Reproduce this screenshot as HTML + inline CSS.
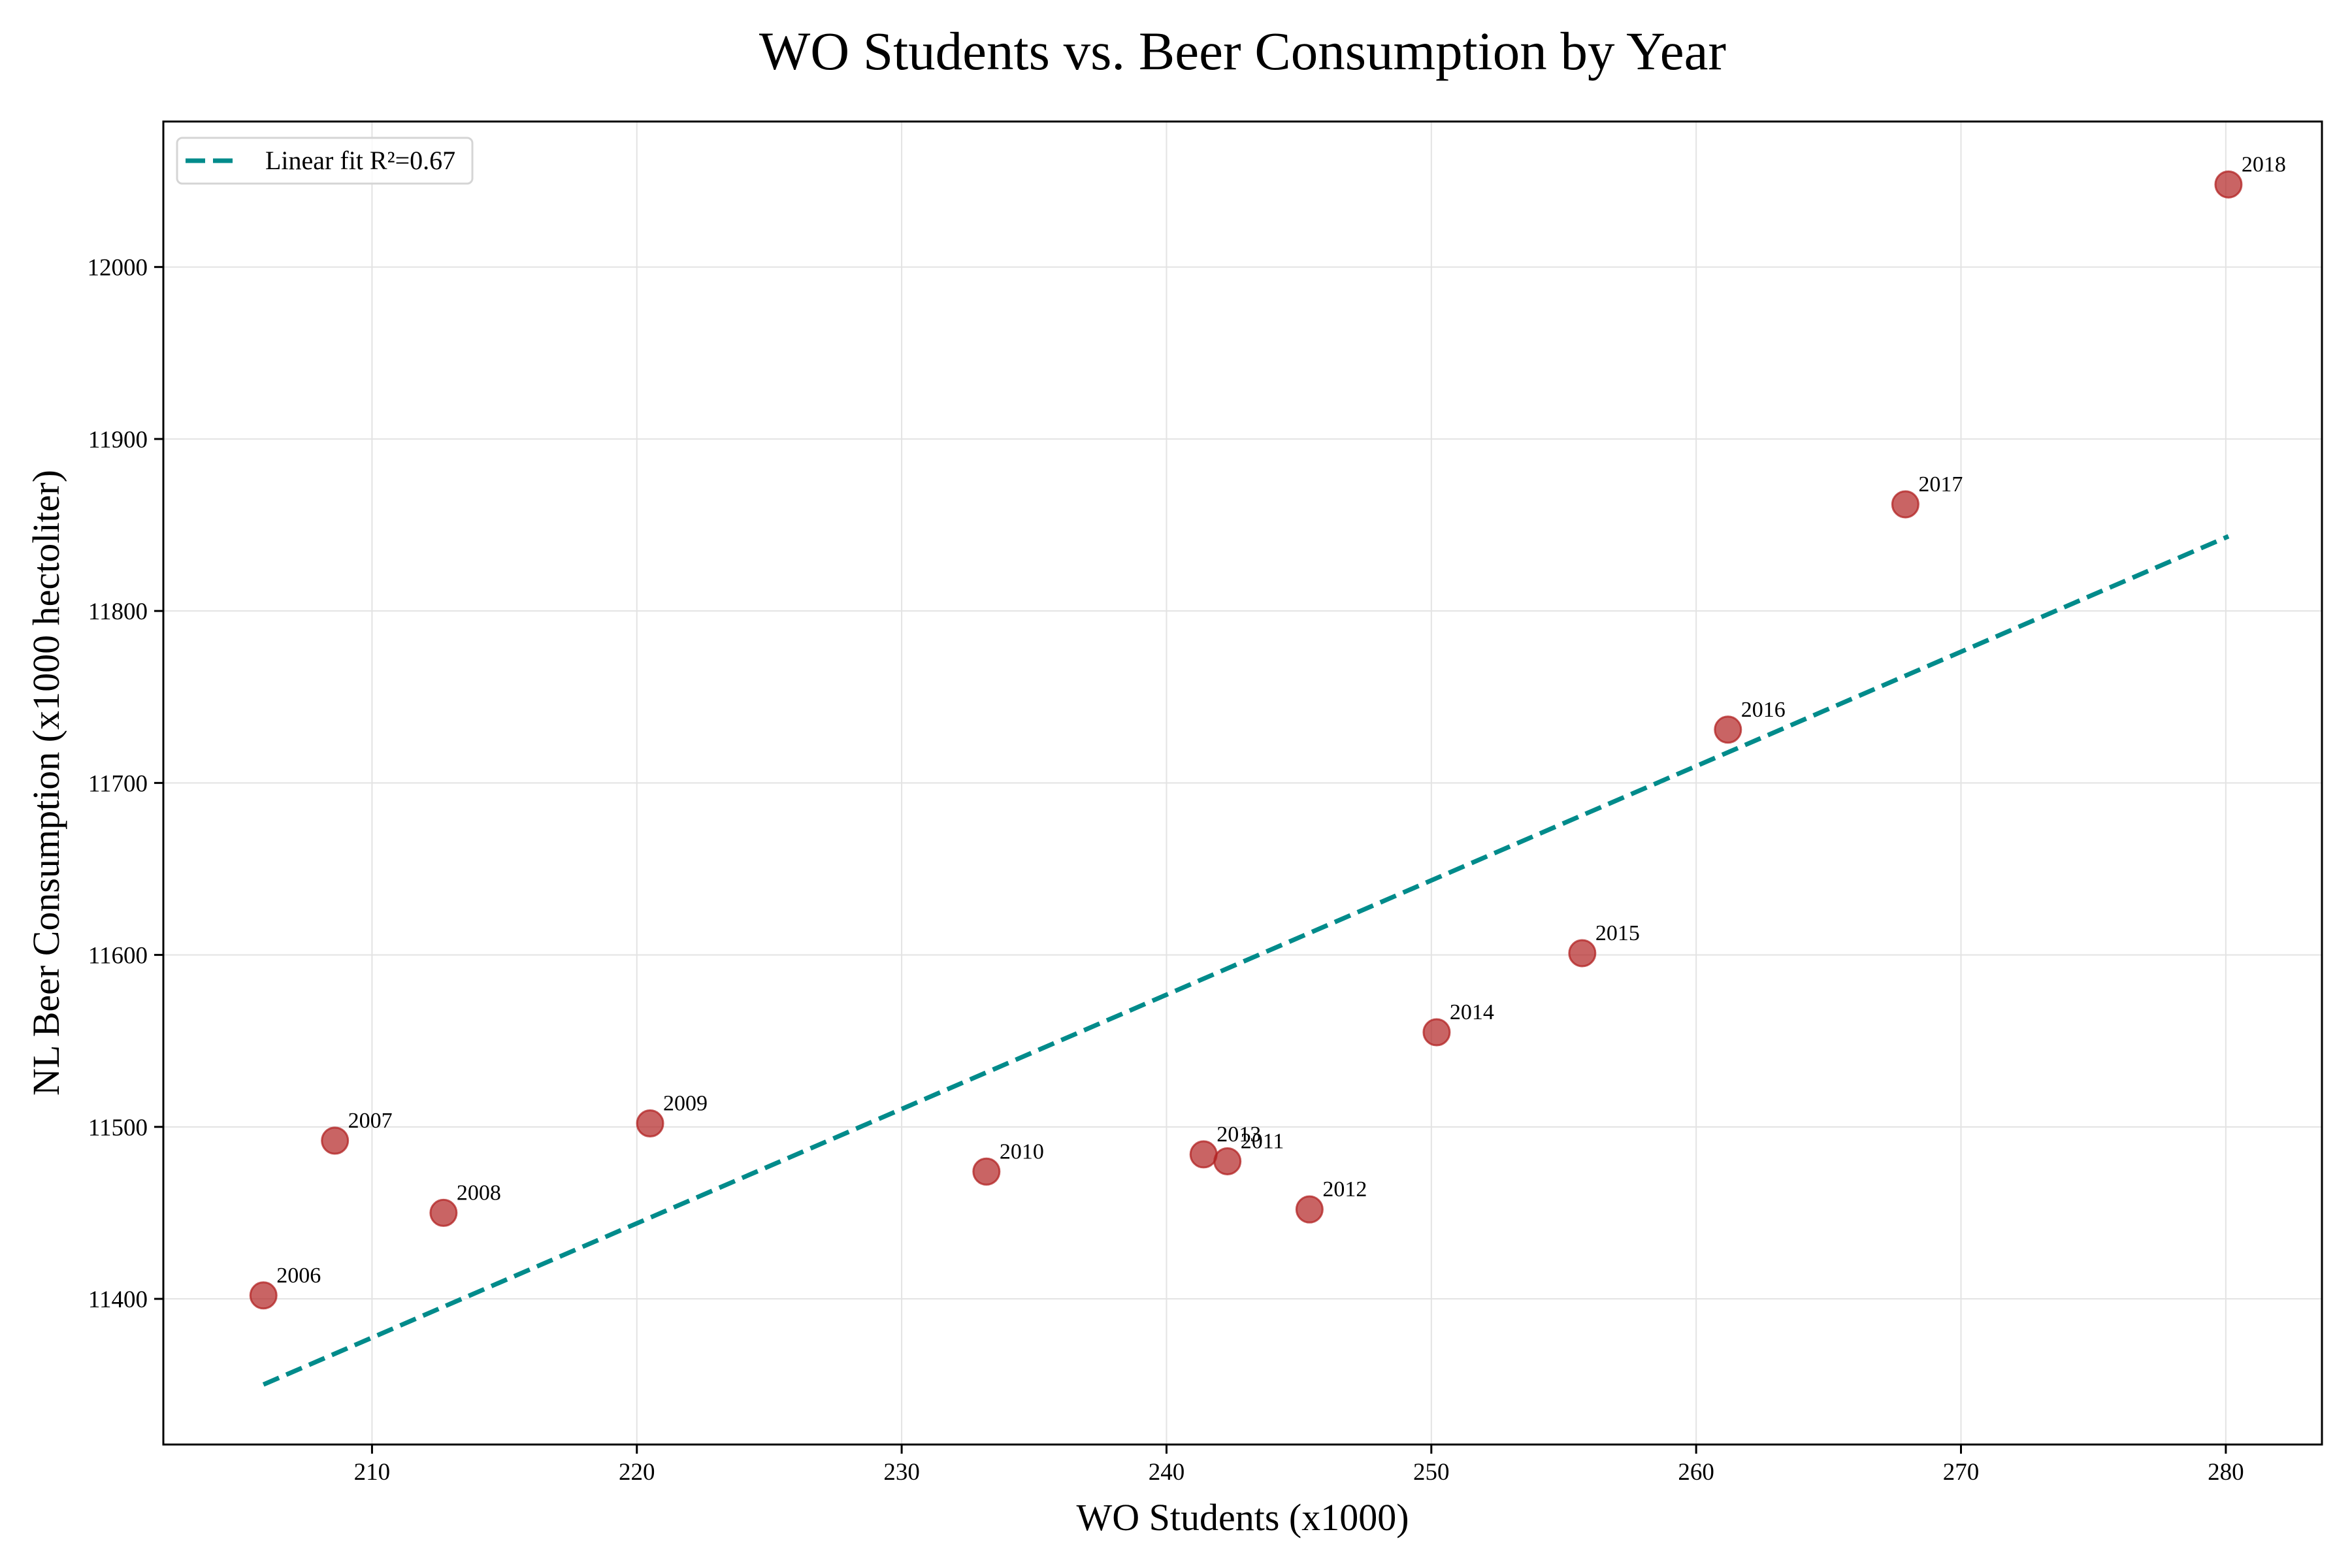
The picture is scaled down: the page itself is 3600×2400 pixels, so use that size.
<!DOCTYPE html>
<html><head><meta charset="utf-8"><style>
html,body{margin:0;padding:0;background:#fff;}
svg{display:block;font-family:"Liberation Serif","DejaVu Serif",serif;}
</style></head><body>
<svg id="chart" width="3600" height="2400" viewBox="0 0 3600 2400" xmlns="http://www.w3.org/2000/svg">
<rect width="3600" height="2400" fill="#fff"/>
<text x="1902" y="106" text-anchor="middle" font-size="83">WO Students vs. Beer Consumption by Year</text>
<g id="grid"></g>
<g id="fit"></g>
<g id="points"></g>
<g id="ticks"></g>
<rect x="250" y="186" width="3304" height="2025" fill="none" stroke="#000" stroke-width="3"/>
<text x="1902" y="2342" text-anchor="middle" font-size="58">WO Students (x1000)</text>
<text transform="translate(90,1198) rotate(-90)" text-anchor="middle" font-size="58">NL Beer Consumption (x1000 hectoliter)</text>
<g>
<rect x="271" y="211" width="452" height="70" rx="8" fill="#fff" fill-opacity="0.8" stroke="#d5d5d5" stroke-width="3"/>
<line x1="284" y1="246" x2="360" y2="246" stroke="#008b8b" stroke-width="7" stroke-dasharray="30,12"/>
<text x="406" y="259" font-size="40">Linear fit R²=0.67</text>
</g>
</svg>
<script>
const years = ["2006","2007","2008","2009","2010","2013","2011","2012","2014","2015","2016","2017","2018"];
const students = [205.9,208.6,212.7,220.5,233.2,241.4,242.3,245.4,250.2,255.7,261.2,267.9,280.1];
const beer = [11402,11492,11450,11502,11474,11484,11480,11452,11555,11601,11731,11862,12048];
const xTicks = [210,220,230,240,250,260,270,280];
const yTicks = [11400,11500,11600,11700,11800,11900,12000];

const NS="http://www.w3.org/2000/svg";
const X0=250,X1=3554,Y0=186,Y1=2211;
const xMin=202.12,xMax=283.63,yMin=11315.3,yMax=12084.6;
function sx(v){return X0+(v-xMin)/(xMax-xMin)*(X1-X0);}
function sy(v){return Y1-(v-yMin)/(yMax-yMin)*(Y1-Y0);}
function mk(tag,attrs,parent){const e=document.createElementNS(NS,tag);for(const k in attrs)e.setAttribute(k,attrs[k]);parent.appendChild(e);return e;}
const grid=document.getElementById('grid'),ticks=document.getElementById('ticks');
xTicks.forEach(t=>{
  const g=mk('line',{x1:sx(t),x2:sx(t),y1:Y0,y2:Y1,stroke:'#e3e3e3','stroke-width':2},grid);
  
  
  const tk=mk('line',{x1:sx(t),x2:sx(t),y1:Y1,y2:Y1+14,stroke:'#000','stroke-width':3},ticks);
  
  
  const tl=mk('text',{x:sx(t),y:Y1+54,'text-anchor':'middle','font-size':37},ticks);
  tl.textContent=t;
  
  
});
yTicks.forEach(t=>{
  const g=mk('line',{x1:X0,x2:X1,y1:sy(t),y2:sy(t),stroke:'#e3e3e3','stroke-width':2},grid);
  
  
  const tk=mk('line',{x1:X0-14,x2:X0,y1:sy(t),y2:sy(t),stroke:'#000','stroke-width':3},ticks);
  
  
  const tl=mk('text',{x:X0-24,y:sy(t)+13,'text-anchor':'end','font-size':37},ticks);
  tl.textContent=t;
  
  
});
const n=students.length;
const mx=students.reduce((a,b)=>a+b)/n,my=beer.reduce((a,b)=>a+b)/n;
let sxy=0,sxx=0;for(let i=0;i<n;i++){sxy+=(students[i]-mx)*(beer[i]-my);sxx+=(students[i]-mx)**2;}
const slope=sxy/sxx,icpt=my-slope*mx;
const xa=Math.min(...students),xb=Math.max(...students);
const fl=mk('line',{x1:sx(xa),y1:sy(icpt+slope*xa),x2:sx(xb),y2:sy(icpt+slope*xb),stroke:'#008b8b','stroke-width':7,'stroke-dasharray':'26,12'},document.getElementById('fit'));


const pts=document.getElementById('points');
students.forEach((v,i)=>{
  const c=mk('circle',{cx:sx(v),cy:sy(beer[i]),r:20,fill:'#b22222','fill-opacity':0.7,stroke:'#b22222','stroke-opacity':0.75,'stroke-width':3},pts);
  
  
  const t=mk('text',{x:sx(v)+20,y:sy(beer[i])-20,'font-size':34},pts);
  t.textContent=years[i];
  
  
});
</script>
</body></html>
